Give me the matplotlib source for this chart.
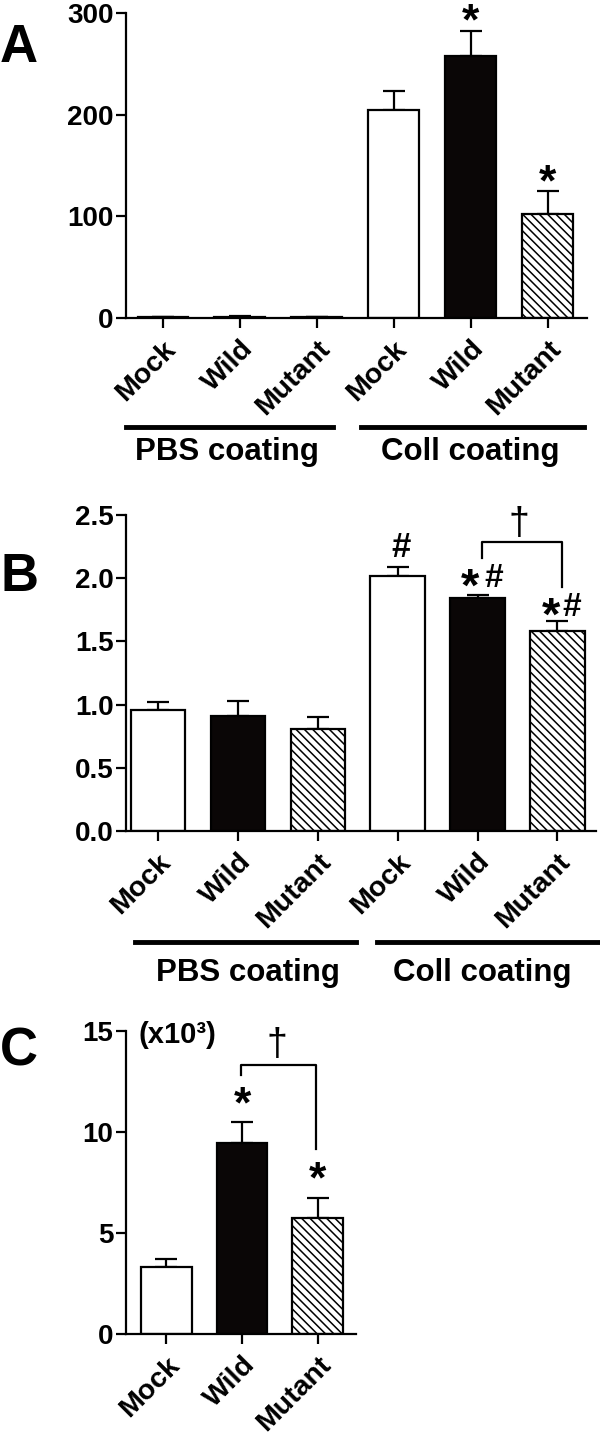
import matplotlib
matplotlib.use('Agg')
import matplotlib.pyplot as plt
import numpy as np

plt.rcParams['font.family'] = ['Liberation Sans', 'DejaVu Sans']
plt.rcParams['font.weight'] = 'bold'
plt.rcParams['hatch.linewidth'] = 1.1

# data
labels = ['Mock', 'Wild', 'Mutant']
groups = ['PBS coating', 'Coll coating']

a_vals = [0.6, 1.2, 0.6, 205, 258, 102]
a_err = [0.3, 0.3, 0.3, 18, 24, 23]

b_vals = [0.96, 0.91, 0.81, 2.02, 1.84, 1.58]
b_err = [0.06, 0.12, 0.09, 0.07, 0.03, 0.08]

c_vals = [3.31, 9.48, 5.72]
c_err = [0.40, 1.00, 1.00]

faces = ['white', '#0a0606', 'white']
hatches = [None, None, '\\\\\\\\']


def bars(ax, vals, errs, width):
    x = np.arange(len(vals))
    for i, (v, e) in enumerate(zip(vals, errs)):
        k = i % 3
        ax.bar(x[i], v, width, color=faces[k], edgecolor='black', linewidth=1.6,
               hatch=hatches[k], zorder=2)
        ax.errorbar(x[i], v, yerr=[[0], [e]], fmt='none', ecolor='black',
                    elinewidth=1.6, capsize=8, capthick=1.6, zorder=1)
    ax.set_xticks(x)
    ax.set_xticklabels(labels * (len(vals) // 3), rotation=45, ha='right',
                       rotation_mode='anchor', fontsize=20.5)
    ax.spines['top'].set_visible(False)
    ax.spines['right'].set_visible(False)
    ax.spines['left'].set_linewidth(1.6)
    ax.spines['bottom'].set_linewidth(1.6)
    ax.tick_params(axis='both', width=1.6, length=7, labelsize=20)
    ax.tick_params(axis='x', pad=6, labelsize=20.5)
    ax.tick_params(axis='y', pad=2)


def group_lines(ax, spans, centers, yline, ytext):
    tr = ax.get_xaxis_transform()
    for (x0, x1), xc, name in zip(spans, centers, groups):
        ax.plot([x0, x1], [yline, yline], color='black', lw=3.5,
                transform=tr, clip_on=False)
        ax.text(xc, ytext, name, transform=tr, ha='center', va='center',
                fontsize=22.5)


def bracket(ax, x0, x1, ytop, yl, yr):
    ax.plot([x0, x0, x1, x1], [yl, ytop, ytop, yr], color='black', lw=1.6,
            clip_on=False)


def star_hash(ax, xs, xh, y):
    ax.text(xs, y - 0.07, '*', ha='center', va='center', fontsize=34)
    ax.text(xh, y + 0.01, '#', ha='center', va='center', fontsize=24)


fig = plt.figure(figsize=(6, 14.35), dpi=100)

# panel A
axA = fig.add_axes([0.21, 0.7784, 0.768, 0.2125])
bars(axA, a_vals, a_err, 0.66)
axA.set_xlim(-0.48, 5.51)
axA.set_ylim(0, 300)
axA.set_yticks([0, 100, 200, 300])
axA.text(4, 290, '*', ha='center', va='center', fontsize=32, clip_on=False)
axA.text(5, 132, '*', ha='center', va='center', fontsize=32)
group_lines(axA, [(-0.48, 2.21), (2.57, 5.47)], [0.83, 4.0], -0.357, -0.44)

# panel B
axB = fig.add_axes([0.21, 0.4209, 0.783, 0.2202])
bars(axB, b_vals, b_err, 0.68)
axB.set_xlim(-0.40, 5.48)
axB.set_ylim(0, 2.5)
axB.set_yticks([0, 0.5, 1.0, 1.5, 2.0, 2.5])
axB.set_yticklabels(['%.1f' % t for t in [0, 0.5, 1.0, 1.5, 2.0, 2.5]])
axB.text(3.04, 2.24, '#', ha='center', va='center', fontsize=25)
star_hash(axB, 3.91, 4.2, 1.99)
star_hash(axB, 4.92, 5.18, 1.76)
bracket(axB, 4.05, 5.06, 2.29, 2.16, 1.93)
axB.text(4.52, 2.43, '\u2020', ha='center', va='center', fontsize=27,
         fontweight='normal', clip_on=False)
group_lines(axB, [(-0.29, 2.48), (2.74, 5.56)], [1.12, 4.06], -0.351, -0.45)

# panel C
axC = fig.add_axes([0.21, 0.0704, 0.383, 0.2111])
bars(axC, c_vals, c_err, 0.67)
axC.set_xlim(-0.53, 2.5)
axC.set_ylim(0, 15)
axC.set_yticks([0, 5, 10, 15])
axC.text(1, 11.3, '*', ha='center', va='center', fontsize=32)
axC.text(2, 7.6, '*', ha='center', va='center', fontsize=32)
bracket(axC, 0.98, 1.98, 13.3, 12.8, 9.18)
axC.text(1.46, 14.3, '\u2020', ha='center', va='center', fontsize=27,
         fontweight='normal', clip_on=False)
axC.text(-0.36, 14.8, '(x10\u00b3)', ha='left', va='center', fontsize=21)

# panel letters
fig.text(0.0, 1 - 48 / 1435, 'A', fontsize=38, va='center')
fig.text(0.0, 1 - 577 / 1435, 'B', fontsize=38, va='center')
fig.text(0.0, 1 - 1052 / 1435, 'C', fontsize=38, va='center')

fig.savefig('out.png', dpi=100)
